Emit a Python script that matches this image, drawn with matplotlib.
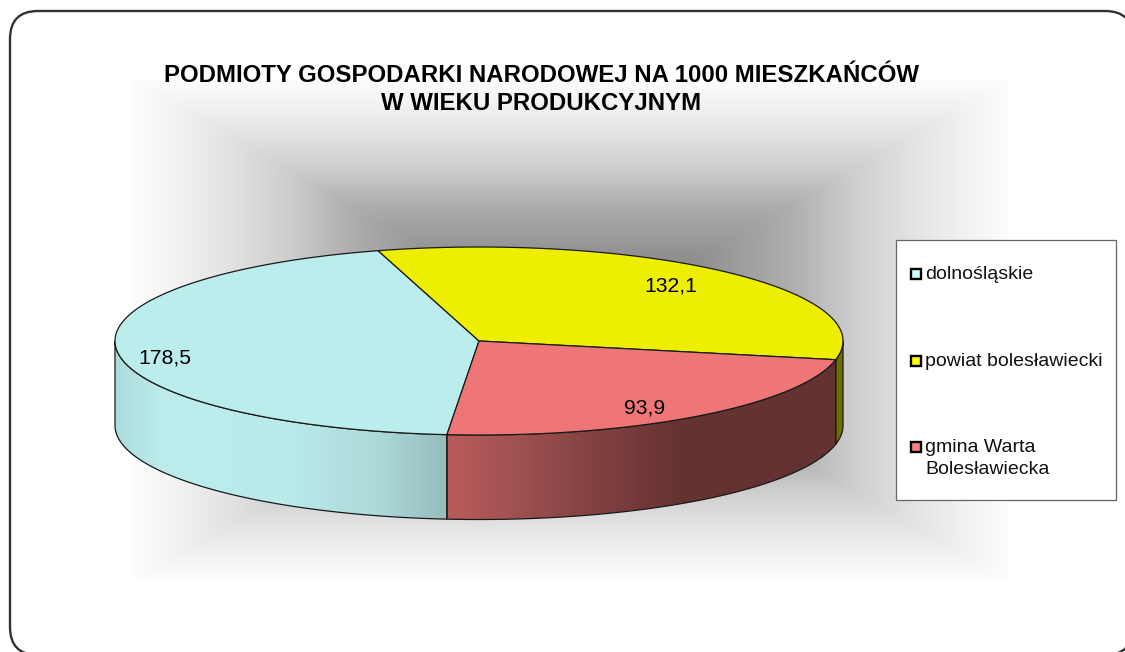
import numpy as np
import matplotlib
matplotlib.use("Agg")
import matplotlib.pyplot as plt
from matplotlib.patches import Polygon, Rectangle, FancyBboxPatch

plt.rcParams['font.family'] = ['Liberation Sans', 'DejaVu Sans']

# --- data ---
categories = ['dolnośląskie', 'powiat bolesławiecki', 'gmina Warta\nBolesławiecka']
values = [178.5, 132.1, 93.9]
value_labels = ['178,5', '132,1', '93,9']
title_lines = ['PODMIOTY GOSPODARKI NARODOWEJ NA 1000 MIESZKAŃCÓW', 'W WIEKU PRODUKCYJNYM']

# --- style ---
top_colors = ['#BBEDED', '#EEEE00', '#EE7676']
legend_colors = ['#CCFFFF', '#FFFF00', '#FF8080']
CX, CY, A, B, DEPTH = 479, 341, 364, 94, 84.5
START = 95.05  # degrees, clockwise on screen from east

W, H = 1125, 652
fig = plt.figure(figsize=(W / 100, H / 100), dpi=100, facecolor='white')
ax = fig.add_axes([0, 0, 1, 1])
ax.set_axis_off()

# frame
frame = FancyBboxPatch((10 + 28, 11 + 28), 1123 - 56, 644 - 56,
                       boxstyle='round,pad=28,rounding_size=28',
                       fc='white', ec='#333333', lw=1.7, zorder=1, clip_on=True)
ax.add_patch(frame)

# background rectangular gradient
bx0, bx1, by0, by1 = 133, 1008, 80, 580
xx, yy = np.meshgrid(np.linspace(bx0, bx1, 876), np.linspace(by0, by1, 501))
t = np.maximum(np.abs(xx - (bx0 + bx1) / 2) / ((bx1 - bx0) / 2),
               np.abs(yy - (by0 + by1) / 2) / ((by1 - by0) / 2))
gray = np.interp(t, [0, 0.37, 0.51, 0.64, 0.77, 0.91, 1.0],
                 [100, 155, 175, 205, 225, 243, 253])


def soften(arr, n=9, passes=2):
    kernel = np.ones(n) / n
    out = arr
    for _ in range(passes):
        for axis in (0, 1):
            pad = [(0, 0), (0, 0)]
            pad[axis] = (n // 2, n // 2)
            padded = np.pad(out, pad, mode='edge')
            out = np.apply_along_axis(lambda v: np.convolve(v, kernel, mode='valid'), axis, padded)
    return out


gray = soften(gray) / 255
ax.imshow(np.dstack([gray, gray, gray]), extent=(bx0, bx1, by1, by0),
          aspect='auto', zorder=2, interpolation='bilinear')


def ell(a_deg, dy=0):
    r = np.radians(a_deg)
    return CX + A * np.cos(r), CY + B * np.sin(r) + dy


def hgrad(stops, zorder, clip_poly):
    xs = np.arange(CX - A - 1, CX + A + 2)
    pos = [s[0] for s in stops]
    rgb = np.array([[np.interp(xs, pos, [s[1][c] for s in stops]) for c in range(3)]])
    img = ax.imshow(np.transpose(rgb, (0, 2, 1)) / 255,
                    extent=(xs[0], xs[-1], CY + B + DEPTH + 2, CY - 2),
                    aspect='auto', zorder=zorder, interpolation='bilinear')
    img.set_clip_path(clip_poly)


# slice angles derived from the values
total = sum(values)
edges = START + np.concatenate([[0], np.cumsum(values)]) / total * 360

wall_stops = [
    [(115, (172, 220, 220)), (165, (188, 236, 236)), (290, (186, 234, 234)),
     (380, (172, 216, 216)), (447, (150, 188, 188)), (843, (150, 188, 188))],
    [(115, (110, 110, 0)), (843, (110, 110, 0))],
    [(115, (186, 92, 90)), (447, (186, 92, 90)), (500, (165, 84, 84)),
     (580, (135, 68, 68)), (680, (102, 50, 50)), (843, (100, 50, 50))],
]

# side walls: only the front half of the cylinder is visible
for i in range(3):
    a0, a1 = edges[i], edges[i + 1]
    for k in (-1, 0, 1):
        lo = max(a0 + 360 * k, 0)
        hi = min(a1 + 360 * k, 180)
        if hi <= lo:
            continue
        ang = np.linspace(lo, hi, 120)
        tx, ty = ell(ang)
        bx, by = ell(ang[::-1], DEPTH)
        pts = np.column_stack([np.r_[tx, bx], np.r_[ty, by]])
        poly = Polygon(pts, closed=True, fc='none', ec='none', transform=ax.transData)
        ax.add_patch(poly)
        hgrad(wall_stops[i], 3, poly)
        ax.add_patch(Polygon(pts, closed=True, fc='none', ec='#1a1a1a', lw=0.9, zorder=4))

# top faces
for i in range(3):
    ang = np.linspace(edges[i], edges[i + 1], 200)
    ex, ey = ell(ang)
    pts = np.column_stack([np.r_[CX, ex], np.r_[CY, ey]])
    ax.add_patch(Polygon(pts, closed=True, fc=top_colors[i], ec='#1a1a1a', lw=0.9,
                         joinstyle='round', zorder=5))

# data labels
label_anchor = [(165, 364), (671, 292), (645, 414)]
for (lx, ly), s in zip(label_anchor, value_labels):
    ax.text(lx, ly, s, ha='center', va='baseline', fontsize=15.2, color='black', zorder=6)

# title
for ty_, s in zip([82, 110], title_lines):
    ax.text(541, ty_, s, ha='center', va='baseline', fontsize=17.3, fontweight='bold',
            color='black', zorder=7)

# legend
ax.add_patch(Rectangle((896, 240), 220, 260, fc='white', ec='#666666', lw=0.9, zorder=7))
legend_rows = [273.5, 360.5, 447]
for y, c, s in zip(legend_rows, legend_colors, categories):
    ax.add_patch(Rectangle((911, y - 5), 10, 10, fc=c, ec='black', lw=1.7, zorder=8))
    for j, line in enumerate(s.split('\n')):
        ax.text(925, y + 5.5 + 22 * j, line, ha='left', va='baseline', fontsize=14,
                color='#111111', zorder=8)

ax.set_xlim(0, W)
ax.set_ylim(H, 0)
fig.savefig('out.png', dpi=100)
